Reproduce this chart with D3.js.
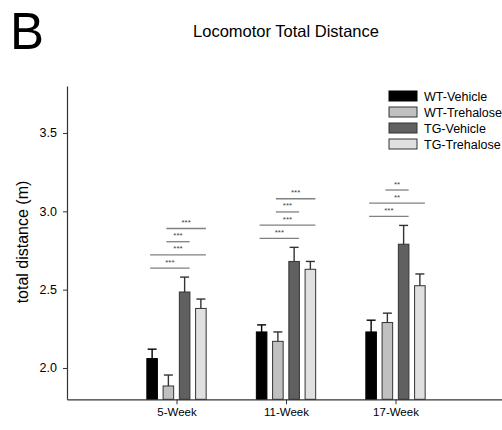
<!DOCTYPE html>
<html>
<head>
<meta charset="utf-8">
<script src="https://cdn.jsdelivr.net/npm/d3@7"></script>
<style>
  body { margin: 0; background: #fff; }
  svg { font-family: "Liberation Sans", Arial, sans-serif; }
</style>
</head>
<body>
<div id="chart"></div>
<script>
// Data
const categories = ['5-Week', '11-Week', '17-Week'];
const seriesNames = ['WT-Vehicle', 'WT-Trehalose', 'TG-Vehicle', 'TG-Trehalose'];
const seriesFills = ['#000000', '#c0c0c0', '#606060', '#e0e0e0'];

const wtVehicle = [2.06, 2.23, 2.23];
const wtTrehalose = [1.885, 2.17, 2.29];
const tgVehicle = [2.485, 2.68, 2.79];
const tgTrehalose = [2.38, 2.63, 2.525];

const wtVehicleErr = [0.06, 0.045, 0.075];
const wtTrehaloseErr = [0.07, 0.06, 0.06];
const tgVehicleErr = [0.095, 0.09, 0.12];
const tgTrehaloseErr = [0.06, 0.05, 0.075];

const yTicks = [2.0, 2.5, 3.0, 3.5];

// significance brackets per week, bottom to top: [from series, to series, label]
const sig5 = [[0, 2, '***'], [0, 3, '***'], [1, 2, '***'], [1, 3, '***']];
const sig11 = [[0, 2, '***'], [0, 3, '***'], [1, 2, '***'], [1, 3, '***']];
const sig17 = [[0, 2, '***'], [0, 3, '**'], [1, 2, '**']];

const values = [wtVehicle, wtTrehalose, tgVehicle, tgTrehalose];
const errors = [wtVehicleErr, wtTrehaloseErr, tgVehicleErr, tgTrehaloseErr];
const sigs = [sig5, sig11, sig17];

const W = 502, H = 430;
const axisColor = '#333';

const svg = d3.select('#chart').append('svg')
    .attr('width', W)
    .attr('height', H);

// Scales: category slots 1..3 on a 0..4 axis
const x = d3.scaleLinear().domain([0, 4]).range([67, 505]);
const inner = d3.scaleBand().domain(d3.range(seriesNames.length))
    .range([-32.5, 32.5]).paddingInner(0.35).paddingOuter(0.175);
const y = d3.scaleLinear().domain([1.8, 3.8]).range([399.3, 86]);

function barX(ci, si) { return x(ci + 1) + inner(si); }
function barCenter(ci, si) { return barX(ci, si) + inner.bandwidth() / 2; }

// Bars and error bars
const rows = [];
categories.forEach((c, ci) => {
    seriesNames.forEach((s, si) => {
        rows.push({ ci, si, v: values[si][ci], e: errors[si][ci] });
    });
});

const g = svg.append('g');

g.selectAll('.err')
    .data(rows)
    .enter()
    .append('g')
    .attr('class', 'err')
    .each(function(d) {
        const cx = barCenter(d.ci, d.si);
        const col = d.si === 0 ? '#000' : '#333';
        d3.select(this).append('line')
            .attr('x1', cx).attr('x2', cx)
            .attr('y1', y(d.v)).attr('y2', y(d.v + d.e))
            .attr('stroke', col).attr('stroke-width', 1.4);
        d3.select(this).append('line')
            .attr('x1', cx - 4.5).attr('x2', cx + 4.5)
            .attr('y1', y(d.v + d.e)).attr('y2', y(d.v + d.e))
            .attr('stroke', col).attr('stroke-width', 1.4);
    });

g.selectAll('.bar')
    .data(rows)
    .enter()
    .append('rect')
    .attr('class', 'bar')
    .attr('x', d => barX(d.ci, d.si))
    .attr('y', d => y(d.v))
    .attr('width', inner.bandwidth())
    .attr('height', d => y(1.8) - y(d.v))
    .attr('fill', d => seriesFills[d.si])
    .attr('stroke', d => d.si === 0 ? '#000' : '#333')
    .attr('stroke-width', 1);

// Significance brackets
categories.forEach((c, ci) => {
    const top = d3.max(seriesNames, (s, si) => values[si][ci] + errors[si][ci]);
    const base = y(top) - 9;
    sigs[ci].forEach((p, k) => {
        const ly = base - k * 13.2;
        const x1 = barCenter(ci, p[0]) - 2;
        const x2 = barCenter(ci, p[1]) + 5;
        g.append('line')
            .attr('x1', x1).attr('x2', x2)
            .attr('y1', ly).attr('y2', ly)
            .attr('stroke', '#808080')
            .attr('stroke-width', 1.3);
        g.append('text')
            .attr('x', (x1 + x2) / 2)
            .attr('y', ly - 3.5)
            .attr('text-anchor', 'middle')
            .style('font-size', '8px')
            .style('fill', '#444')
            .text(p[2]);
    });
});

// Axes
const yAxis = svg.append('g')
    .attr('transform', 'translate(67,0)')
    .call(d3.axisLeft(y).tickValues(yTicks).tickFormat(d3.format('.1f')).tickSize(4).tickSizeOuter(0));
yAxis.select('.domain').attr('stroke', axisColor).attr('stroke-width', 1.2);
yAxis.selectAll('.tick line').attr('stroke', axisColor);
yAxis.selectAll('.tick text')
    .attr('x', -10)
    .style('font-size', '12.5px')
    .style('fill', '#000');

const xAxis = svg.append('g')
    .attr('transform', `translate(0,${y(1.8)})`)
    .call(d3.axisBottom(x).tickValues([1, 2, 3]).tickFormat(d => categories[d - 1]).tickSize(5).tickSizeOuter(0));
xAxis.select('.domain').attr('stroke', axisColor).attr('stroke-width', 1.2);
xAxis.selectAll('.tick line').attr('stroke', axisColor);
xAxis.selectAll('.tick text')
    .attr('y', 9)
    .style('font-size', '11.5px')
    .style('fill', '#000');

// Axis title
svg.append('text')
    .attr('transform', 'rotate(-90)')
    .attr('x', -242)
    .attr('y', 28)
    .attr('text-anchor', 'middle')
    .style('font-size', '16px')
    .text('total distance (m)');

// Chart title and panel letter
svg.append('text')
    .attr('x', 286)
    .attr('y', 37)
    .attr('text-anchor', 'middle')
    .style('font-size', '16.5px')
    .text('Locomotor Total Distance');

svg.append('text')
    .attr('x', 10)
    .attr('y', 49)
    .style('font-size', '51px')
    .text('B');

// Legend
const legend = svg.append('g')
    .attr('transform', 'translate(389,91)');

const items = legend.selectAll('.legend-item')
    .data(seriesNames)
    .enter()
    .append('g')
    .attr('class', 'legend-item')
    .attr('transform', (d, i) => `translate(0,${i * 16})`);

items.append('rect')
    .attr('width', 28)
    .attr('height', 10)
    .attr('fill', (d, i) => seriesFills[i])
    .attr('stroke', (d, i) => i === 0 ? '#000' : '#333');

items.append('text')
    .attr('x', 35)
    .attr('y', 9.5)
    .style('font-size', '12.5px')
    .text(d => d);
</script>
</body>
</html>
